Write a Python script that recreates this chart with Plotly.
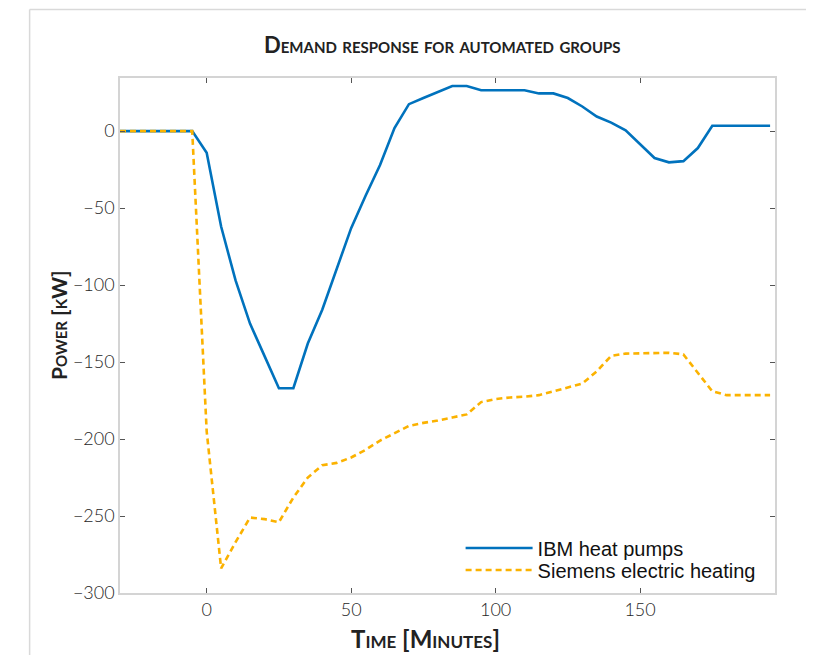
import plotly.graph_objects as go

time_min = [-30, -25, -20, -15, -10, -5, 0, 5, 10, 15, 20, 25, 30, 35, 40, 45, 50, 55, 60, 65,
            70, 75, 80, 85, 90, 95, 100, 105, 110, 115, 120, 125, 130, 135, 140, 145, 150, 155,
            160, 165, 170, 175, 180, 185, 190, 195]

ibm_heat_pumps = [0, 0, 0, 0, 0, 0, -14, -62, -97, -125, -146, -167, -167, -138, -116, -89, -63,
                  -42, -22, 2, 17.5, 21.5, 25.5, 29.3, 29.3, 26.5, 26.5, 26.5, 26.5, 24.5, 24.5,
                  21.5, 16, 9.5, 5.5, 0.5, -8.5, -17.5, -20.3, -19.5, -11, 3.5, 3.5, 3.5, 3.5, 3.5]

siemens_heating = [0, 0, 0, 0, 0, 0, -195, -284, -267, -251, -252, -254, -238, -225, -217, -215.5,
                   -212, -207, -201, -196, -191.5, -189.5, -188, -186, -184, -176, -174, -173,
                   -172.5, -171.5, -169, -166.5, -164, -156, -146, -144.5, -144.3, -144, -144,
                   -145, -157, -169, -171.5, -171.5, -171.5, -171.5]

x_ticks = [0, 50, 100, 150]
y_ticks = [-300, -250, -200, -150, -100, -50, 0]

title_text = "Demand response for automated groups"
x_title = "Time [Minutes]"
y_title = "Power [kW]"
names = ["IBM heat pumps", "Siemens electric heating"]

fig = go.Figure()
fig.add_trace(go.Scatter(x=time_min, y=ibm_heat_pumps, mode="lines", name=names[0],
                         legend="legend", line=dict(color="#0072BD", width=2.6)))
fig.add_trace(go.Scatter(x=time_min, y=siemens_heating, mode="lines", name=names[1],
                         legend="legend2",
                         line=dict(color="#FBB200", width=2.6, dash="6px,4px")))

tickfont = dict(family="Lato", size=18, color="#262626", weight=300)
axis_common = dict(showgrid=False, zeroline=False, showline=True, linecolor="#d4d4d4",
                   linewidth=1.5, mirror="ticks", ticks="inside", ticklen=5, tickwidth=1,
                   tickcolor="#555555", tickfont=tickfont)

fig.update_xaxes(range=[-30, 196.7], tickvals=x_ticks, **axis_common)
fig.update_yaxes(range=[-300, 34.5], tickvals=y_ticks, **axis_common)

legend_font = dict(family="Liberation Sans", size=20, color="#111111")
legend_common = dict(xanchor="left", yanchor="middle", bgcolor="rgba(0,0,0,0)",
                     borderwidth=0, itemwidth=67, font=legend_font)

title_font = dict(family="Lato", color="#222222", weight="bold", variant="small-caps")

fig.update_layout(
    width=798, height=647,
    margin=dict(l=112, r=31, t=70, b=62),
    paper_bgcolor="white", plot_bgcolor="white",
    showlegend=True,
    legend=dict(x=0.52, y=0.0874, **legend_common),
    legend2=dict(x=0.52, y=0.0447, **legend_common),
    annotations=[
        dict(text=title_text, x=0.492, y=1.066, xref="paper", yref="paper", showarrow=False,
             xanchor="center", yanchor="middle", font=dict(size=22, **title_font)),
        dict(text=x_title, x=0.466, y=-0.0874, xref="paper", yref="paper", showarrow=False,
             xanchor="center", yanchor="middle", font=dict(size=24, **title_font)),
        dict(text=y_title, x=-0.095, y=0.52, xref="paper", yref="paper", showarrow=False,
             xanchor="center", yanchor="middle", textangle=-90, font=dict(size=21, **title_font)),
    ],
    shapes=[
        dict(type="line", xref="paper", yref="paper", x0=-0.138, x1=-0.138, y0=1.133, y1=-0.15,
             line=dict(color="#d9d9d9", width=1.5)),
        dict(type="line", xref="paper", yref="paper", x0=-0.138, x1=1.07, y0=1.133, y1=1.133,
             line=dict(color="#d9d9d9", width=1.5)),
    ],
)

fig.write_html("out.html")
